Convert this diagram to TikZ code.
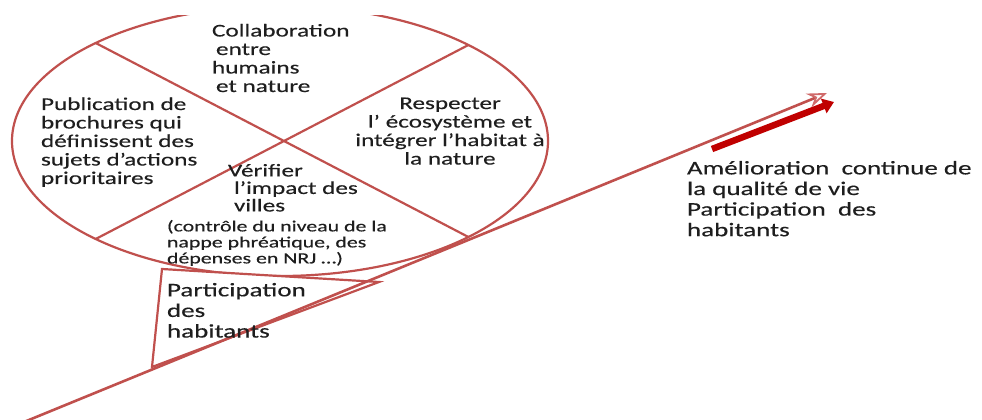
\documentclass[tikz,border=0pt]{standalone}
\usepackage{fontspec}
\setmainfont{Carlito}[FakeStretch=1.4, FakeBold=0.3]
\usetikzlibrary{arrows.meta,shapes.geometric}
\definecolor{accred}{HTML}{C0504D}
\definecolor{headred}{HTML}{D06A6A}
\definecolor{darkred}{HTML}{C00000}
\definecolor{txt}{HTML}{1E1E1E}
\tikzset{
  redline/.style={draw=accred, line width=2.2pt},
  bigtxt/.style={font=\fontsize{18}{18.5}\selectfont, text=txt, inner sep=0pt, outer sep=0pt},
  smalltxt/.style={font=\fontsize{15.6}{16}\selectfont, text=txt, inner sep=0pt, outer sep=0pt},
  largetxt/.style={font=\fontsize{19.3}{20.6}\selectfont, text=txt, inner sep=0pt, outer sep=0pt},
}
\begin{document}
\begin{tikzpicture}[x=1pt,y=-1pt]
\useasboundingbox (0,0) rectangle (982,420);
\begin{scope}
\clip (0,16) rectangle (982,420);
% ellipse
\node[ellipse, redline, minimum width=536pt, minimum height=270pt, inner sep=0pt, outer sep=0pt] (ell) at (280,141) {};
\draw[redline] (ell.152.5) -- (ell.-27.5);
\draw[redline] (ell.27.5) -- (ell.-152.5);
% callout
\coordinate (c1) at (162,269);
\coordinate (c2) at (379,282);
\coordinate (c3) at (152,367);
\draw[redline, fill=white, line join=miter] (c1) -- (c2) -- (c3) -- cycle;
% main line
\coordinate (start) at (24,422);
\coordinate (tip) at (827,93);
\draw[accred, line width=2.6pt, -{Stealth[open, length=20pt, width=15pt, inset=7pt, color=headred, line width=1.8pt]}] (start) -- (tip);
% thick arrow
\coordinate (a1) at (712,149);
\coordinate (a2) at (834,102);
\draw[darkred, line width=6.5pt, -{Triangle[length=11pt, width=15pt]}] (a1) -- (a2);
\end{scope}
% texts
\node[bigtxt, anchor=north west, align=left] (collab) at (212,24) {Collaboration\\\hspace*{4pt}entre\\humains\\\hspace*{4pt}et nature};
\node[bigtxt, anchor=north west, align=left] (publi) at (41,97.5) {Publication de\\brochures qui\\définissent des\\sujets d’actions\\prioritaires};
\node[bigtxt, anchor=north, align=center] (resp) at (450,97.5) {Respecter\\l’ écosystème et\\intégrer l’habitat à\\la nature};
\node[font=\fontsize{18}{17.5}\selectfont, text=txt, inner sep=0pt, outer sep=0pt, anchor=north west, align=left] (verif) at (228,164) {Vérifier\\\hspace*{6pt}l’impact des\\\hspace*{6pt}villes};
\node[smalltxt, anchor=north west, align=left] (ctrl) at (167,220) {(contrôle du niveau de la\\nappe phréatique, des\\dépenses en NRJ …)};
\node[largetxt, anchor=north west, align=left] (part) at (167,283) {Participation\\des\\habitants};
\node[largetxt, anchor=north west, align=left] (amel) at (687,161) {Amélioration\ \ continue de\\la qualité de vie\\Participation\ \ des\\habitants};
\end{tikzpicture}
\end{document}
